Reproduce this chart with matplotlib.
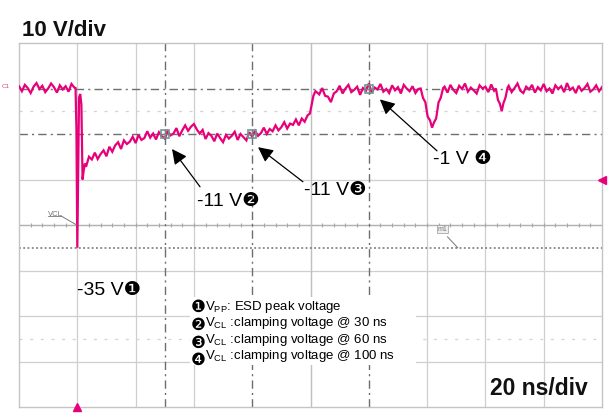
import numpy as np
import matplotlib
matplotlib.use("Agg")
import matplotlib.pyplot as plt
from matplotlib.patches import Rectangle

plt.rcParams['font.family'] = ['Liberation Sans', 'DejaVu Sans']
plt.rcParams['mathtext.fontset'] = 'custom'
plt.rcParams['mathtext.rm'] = 'Liberation Sans'
plt.rcParams['mathtext.it'] = 'Liberation Sans:italic'
plt.rcParams['mathtext.bf'] = 'Liberation Sans:bold'

# ---------------- data (time in ns, voltage in V) ----------------
pre_t = np.arange(-20, 0)
pre_v = [-0.5, -1.6, -0.2, -0.9, -2.0, -0.6, 0.2, -1.1, -0.4, -1.8,
         -1.0, 0.1, -0.7, -1.9, -0.3, -1.2, -0.5, -1.7, 0.0, -0.8]
spike_t = [-0.6, -0.3, 0.0, 0.3, 0.6, 1.0, 1.4, 1.8, 2.2, 2.6]
spike_v = [-0.9, -10.0, -36.0, -20.0, -3.0, -2.2, -4.5, -21.0, -19.0, -17.5]
rec_t = np.arange(3, 30)
rec_v = [-18.2, -16.0, -16.6, -15.1, -16.5, -15.4, -14.6, -15.9, -13.8, -14.9,
         -13.5, -12.8, -14.3, -12.4, -13.2, -12.7, -11.6, -13.0, -11.2, -12.3,
         -11.9, -10.4, -11.8, -10.9, -12.2, -10.6, -11.5]
mid_t = np.arange(30, 60)
mid_v = [-12.0, -10.4, -11.3, -10.9, -9.7, -11.5, -10.2, -9.1, -10.3, -9.4,
         -8.8, -10.0, -10.9, -10.1, -12.1, -10.8, -11.4, -12.6, -10.9, -11.9,
         -12.8, -11.2, -12.0, -11.4, -10.5, -12.3, -11.0, -11.7, -12.4, -10.6]
rise_t = np.arange(60, 80)
rise_v = [-11.6, -10.3, -11.4, -10.8, -9.6, -11.0, -9.9, -10.4, -9.1, -10.2,
          -9.5, -8.4, -9.8, -8.7, -9.0, -7.8, -9.1, -7.6, -8.3, -6.9]
fast_t = [79.8, 80.4, 81.0, 81.7, 82.3]
fast_v = [-6.5, -4.5, -2.6, -1.6, -1.9]
top_t = np.arange(83, 118)
top_v = [-2.3, -0.9, -2.6, -2.8, -4.0, -2.1, -1.6, -0.4, -2.1, -1.0,
         -0.2, -1.8, -1.3, -0.6, -2.4, -0.9, -1.5, 0.1, -1.9, -0.8,
         -1.2, 0.0, -1.7, -1.1, -2.0, -0.3, -1.4, -0.7, -2.1, -0.2,
         -1.0, -1.6, -0.5, -2.0, -1.1]
dip1_t = [117.8, 118.6, 119.4, 120.2, 121.0, 121.7, 122.4, 123.1, 123.9, 124.7, 125.5]
dip1_v = [-1.0, -3.1, -4.0, -7.2, -8.0, -9.6, -8.4, -7.6, -4.1, -3.0, -0.9]
flat2_t = np.arange(126, 144)
flat2_v = [-0.6, -1.9, -0.2, -1.3, -2.0, -0.4, -1.1, 0.1, -1.7, -0.8,
           -1.4, -2.1, -0.3, -1.0, -0.6, -1.8, -0.1, -1.5]
dip2_t = [143.6, 144.3, 145.0, 145.6, 146.2, 146.9, 147.6]
dip2_v = [-1.0, -3.5, -4.4, -6.0, -4.2, -3.0, -0.8]
flat3_t = np.arange(148, 181)
flat3_v = [-0.4, -1.8, -0.9, 0.1, -1.5, -2.0, -0.6, -1.2, -0.2, -1.9,
           -0.7, -1.4, 0.0, -1.6, -1.0, -2.1, -0.3, -1.1, -0.5, -1.8,
           0.2, -1.3, -0.8, -2.0, -0.4, -1.5, -0.9, 0.0, -1.7, -1.2,
           -0.3, -1.6, -0.7]

cursor_times = [30, 60, 100]          # ns
cursor_levels = [-1, -11]             # V
peak_level = -36                      # V
point_labels = ["-11 V\u2777", "-11 V\u2778", "-1 V \u2779"]
peak_label = "-35 V\u2776"
legend_marks = ["\u2776", "\u2777", "\u2778", "\u2779"]
legend_texts = [r"V$_{\mathrm{PP}}$: ESD peak voltage",
                r"V$_{\mathrm{CL}}$ :clamping voltage @ 30 ns",
                r"V$_{\mathrm{CL}}$ :clamping voltage @ 60 ns",
                r"V$_{\mathrm{CL}}$ :clamping voltage @ 100 ns"]

t = np.concatenate([pre_t, spike_t, rec_t, mid_t, rise_t, fast_t, top_t,
                    dip1_t, flat2_t, dip2_t, flat3_t]).astype(float)
v = np.concatenate([pre_v, spike_v, rec_v, mid_v, rise_v, fast_v, top_v,
                    dip1_v, flat2_v, dip2_v, flat3_v]).astype(float)

# ---------------- figure ----------------
W, H = 611, 414
fig = plt.figure(figsize=(W / 100, H / 100), dpi=100)
fig.patch.set_facecolor('white')
ax = fig.add_axes([19 / W, 6 / H, 583 / W, 364 / H])
XMIN, XMAX = -20, 180
YMIN, YMAX = -71, 9
ax.set_xlim(XMIN, XMAX)
ax.set_ylim(YMIN, YMAX)
ax.set_xticks([])
ax.set_yticks([])
for s in ax.spines.values():
    s.set_color('#c4c4c4')
    s.set_linewidth(1.0)

grid_c = '#cfcfcf'
for gx in np.arange(XMIN + 20, XMAX, 20):
    if gx in cursor_times:
        continue
    ax.axvline(gx, color=grid_c, lw=0.9, zorder=1)
for gy in np.arange(YMIN + 10, YMAX, 10):
    if gy in cursor_levels:
        continue
    ax.axhline(gy, color=grid_c, lw=0.9, zorder=1)

xc = (XMIN + XMAX) / 2
yc = (YMIN + YMAX) / 2
# centre lines with small ticks
ax.axhline(yc, color='#b0b0b0', lw=0.9, zorder=1)
ax.plot(np.arange(XMIN, XMAX + 0.1, 4), np.full(51, yc), ls='none', marker='|',
        ms=3.5, mew=0.8, color='#a8a8a8', zorder=1)
ax.axvline(xc, color='#c0c0c0', lw=0.9, zorder=1)
# faint dotted lines at +-2.5 div
for gy in (yc + 25, yc - 25):
    ax.axhline(gy, color='#d4d4d4', lw=0.9, ls=(0, (2.5, 6)), zorder=1)

# cursors
cur_c = '#6e6e6e'
for ct in cursor_times:
    ax.axvline(ct, color=cur_c, lw=1.0, ls=(0, (6, 3, 1.5, 3)), zorder=2)
for cl in cursor_levels:
    ax.axhline(cl, color=cur_c, lw=1.0, ls=(0, (6, 3, 1.5, 3)), zorder=2)
ax.axhline(peak_level, color='#6e6e6e', lw=1.1, ls=(0, (1.2, 1.6)), zorder=2)

# trace
ax.plot(t, v, color='#e8007a', lw=1.6, zorder=4, solid_joinstyle='miter')

# cursor markers
mk_t = [cursor_times[0], cursor_times[1], cursor_times[2]]
mk_v = [cursor_levels[1], cursor_levels[1], cursor_levels[0]]
ax.plot(mk_t, mk_v, ls='none', marker='s', ms=5.5, mfc='none', mec='#6f9a94',
        mew=1.2, zorder=5)
ax.plot(mk_t, mk_v, ls='none', marker='+', ms=7, mec='#808080', mew=1.0, zorder=5)

# small scope labels
ax.text(-10.0, -28.8, "VCL", fontsize=5.5, color='#777777', zorder=5)
ax.plot([-10.0, -5.6], [-29.0, -29.0], color='#777777', lw=0.6, zorder=5)
ax.plot([-5.6, -0.2], [-29.0, -31.0], color='#777777', lw=0.7, zorder=5)
ax.text(123.5, -32.2, "m1", fontsize=5, color='#777777', zorder=5,
        bbox=dict(boxstyle='square,pad=0.1', fc='#eeeeee', ec='#999999', lw=0.5))
ax.plot([127.0, 130.5], [-33.6, -36.0], color='#777777', lw=0.7, zorder=5)

# annotations with arrows
arrow_kw = dict(arrowstyle='-|>,head_length=0.9,head_width=0.45', color='black',
                lw=0.9, shrinkA=0, shrinkB=0)
tips = [(32.5, -14.3), (62.0, -13.9), (103.8, -3.4)]
tails = [(42.1, -22.6), (77.4, -21.5), (123.4, -14.7)]
text_pos = [(51.7, -25.6), (88.4, -23.1), (132.0, -16.4)]
for tip, tail, tp, lab in zip(tips, tails, text_pos, point_labels):
    ax.annotate("", xy=tip, xytext=tail, arrowprops=arrow_kw, zorder=6)
    ax.text(tp[0], tp[1], lab, fontsize=14, ha='center', va='center', zorder=6)
ax.text(11.0, -45.2, peak_label, fontsize=14, ha='center', va='center', zorder=6)

# legend box
ax.add_patch(Rectangle((190 / W, 1 - 366 / H), 226 / W, 68 / H,
                       transform=fig.transFigure, fc='white', ec='none', zorder=3))
leg_y = [307, 323, 340, 356]
mark_dy = [0, 2, 3, 4]
for yy, dy, mk, tx in zip(leg_y, mark_dy, legend_marks, legend_texts):
    fig.text(191 / W, 1 - (yy + dy) / H, mk, fontsize=12, va='center',
             ha='left', family=['DejaVu Sans'], zorder=7)
    fig.text(205 / W, 1 - yy / H, tx, fontsize=9.5, va='center', ha='left', zorder=7)

# headings
fig.text(22 / W, 1 - 30 / H, "10 V/div", fontsize=16, fontweight='bold',
         va='center', ha='left', color='#111111')
fig.text(588 / W, 1 - 389 / H, "20 ns/div", fontsize=16.5, fontweight='bold',
         va='center', ha='right', color='#111111')

# scope edge markers
fig.text(2 / W, 1 - 86 / H, "C1", fontsize=4.5, color='#d04a8a', va='center')
ax.plot([0], [YMIN], marker='^', ms=6, color='#e8007a', clip_on=False, zorder=7)
ax.plot([XMAX], [-21], marker='<', ms=6, color='#e8007a', clip_on=False, zorder=7)

fig.savefig("out.png", dpi=100, facecolor='white')
